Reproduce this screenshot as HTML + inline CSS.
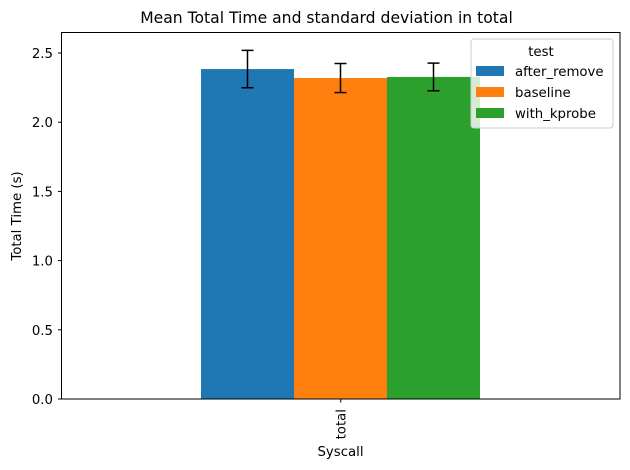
<!DOCTYPE html>
<html><head><meta charset="utf-8"><style>
html,body{margin:0;padding:0;background:#fff;}
svg{display:block;font-family:"DejaVu Sans","Liberation Sans",sans-serif;}
</style></head><body>
<svg id="chart" width="630" height="470" viewBox="0 0 630 470">
<rect width="630" height="470" fill="#fff"/>
<text x="326.5" y="23" font-size="15.6" text-anchor="middle">Mean Total Time and standard deviation in total</text>
<g id="bars"></g>
<g id="yticks"></g>
<rect x="61.5" y="32.5" width="558.5" height="366.5" fill="none" stroke="#000" stroke-width="1"/>
<line x1="340.75" y1="399" x2="340.75" y2="402.5" stroke="#000"/>
<text transform="translate(345.5,409) rotate(-90)" font-size="13.3" text-anchor="end">total</text>
<text x="340.5" y="456" font-size="13.3" text-anchor="middle">Syscall</text>
<text transform="translate(21,216) rotate(-90)" font-size="13.3" text-anchor="middle">Total Time (s)</text>
<g>
<rect x="471" y="39" width="142" height="89" rx="3" fill="#fff" fill-opacity="0.8" stroke="#ccc"/>
<text x="541" y="56" font-size="13.3" text-anchor="middle">test</text>
<g id="legend-items"></g>
</g>
</svg>
<script>
const categories = ["total"];
const series = ["after_remove", "baseline", "with_kprobe"];
const means = [2.384, 2.319, 2.327];
const stds = [0.135, 0.105, 0.1];
const yTicks = [0.0, 0.5, 1.0, 1.5, 2.0, 2.5];
const yTickLabels = ["0.0", "0.5", "1.0", "1.5", "2.0", "2.5"];
const colors = ["#1f77b4", "#ff7f0e", "#2ca02c"];
const NS = "http://www.w3.org/2000/svg";
const y = v => 399 - v * 138.4;
const barW = 93, groupStart = 201;
const x = i => groupStart + i * barW;
function mk(tag, attrs, parent) {
  const e = document.createElementNS(NS, tag);
  for (const k in attrs) e.setAttribute(k, attrs[k]);
  parent.appendChild(e); return e;
}
const bars = document.getElementById("bars");
series.forEach((s, i) => {
  const r = mk("rect", {x: x(i), y: y(means[i]), width: barW, height: y(0) - y(means[i]), fill: colors[i]}, bars);
  
  
  const cx = x(i) + barW / 2, t = y(means[i] + stds[i]), b = y(means[i] - stds[i]);
  const g = mk("g", {stroke: "#000", "stroke-width": 1.5}, bars);
  
  
  mk("line", {x1: cx, y1: t, x2: cx, y2: b}, g);
  mk("line", {x1: cx - 6, y1: t, x2: cx + 6, y2: t}, g);
  mk("line", {x1: cx - 6, y1: b, x2: cx + 6, y2: b}, g);
});
const yt = document.getElementById("yticks");
yTicks.forEach((v, i) => {
  const l = mk("line", {x1: 58, x2: 61.5, y1: y(v), y2: y(v), stroke: "#000"}, yt);
  
  
  const t = mk("text", {x: 53, y: y(v) + 5, "font-size": 13.3, "text-anchor": "end"}, yt);
  t.textContent = yTickLabels[i];
  
  
});
const lg = document.getElementById("legend-items");
series.forEach((s, i) => {
  const yy = 66 + i * 21;
  const sw = mk("rect", {x: 476, y: yy, width: 28, height: 10, fill: colors[i]}, lg);
  
  
  const t = mk("text", {x: 515, y: yy + 10, "font-size": 13.3}, lg);
  t.textContent = s;
  
  
});
</script>
</body></html>
